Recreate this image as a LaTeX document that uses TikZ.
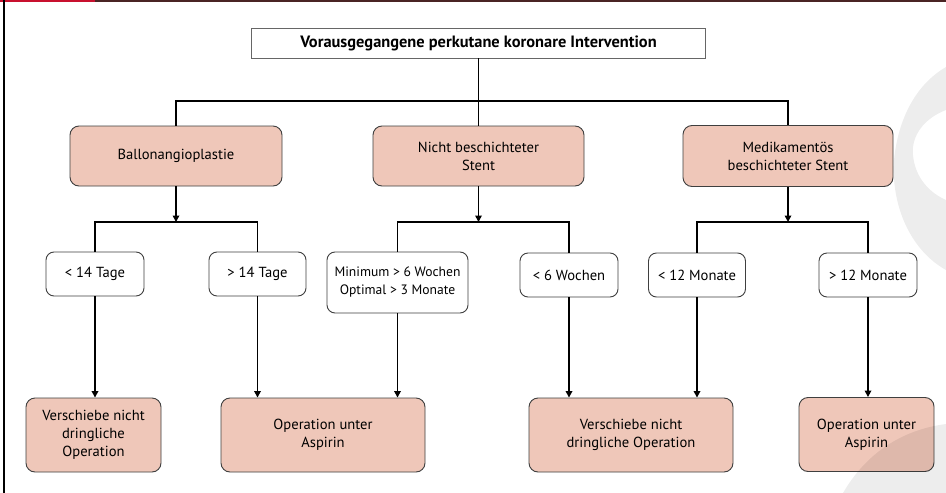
\documentclass[tikz,border=0pt]{standalone}
\usepackage{fontspec}
\setmainfont{PT Sans}
\usetikzlibrary{arrows.meta}
\definecolor{pinkfill}{HTML}{EFC7B9}
\definecolor{boxline}{HTML}{3F3F3F}
\definecolor{framered}{HTML}{C8102E}
\definecolor{framebrown}{HTML}{4A2424}
\tikzset{
  titlebox/.style={draw=gray!80!black, line width=0.8pt, fill=white, minimum width=454pt, minimum height=30pt, inner sep=0pt, font=\bfseries\fontsize{16.4}{18}\selectfont},
  pinkbox/.style={draw=boxline, line width=0.9pt, fill=pinkfill, rounded corners=9pt, align=center, inner sep=0pt, font=\fontsize{14.6}{18}\selectfont},
  condbox/.style={draw=boxline, line width=0.9pt, fill=white, rounded corners=8pt, align=center, inner sep=0pt, font=\fontsize{14.6}{18}\selectfont},
  conn/.style={line width=1.6pt, black},
  arr/.style={conn, -{Triangle[width=6.5pt,length=6.5pt]}},
}
\begin{document}
\begin{tikzpicture}[x=1pt,y=-1pt]
\useasboundingbox (0,0) rectangle (946,493);
\fill[white] (0,0) rectangle (946,493);
% frame
\draw[framebrown, line width=2pt] (0,1) -- (946,1);
\draw[framered, line width=2.2pt] (0,1) -- (95,1);
\draw[black, line width=1.2pt] (4,0) -- (4,493);
% title
\node[titlebox] (title) at (478.5,43) {Vorausgegangene perkutane koronare Intervention};
% level 1
\node[pinkbox, minimum width=212pt, minimum height=60pt] (b1) at (176,156) {Ballonangioplastie};
\node[pinkbox, minimum width=211pt, minimum height=60pt] (b2) at (478.5,156) {Nicht beschichteter\\Stent};
\node[pinkbox, minimum width=210pt, minimum height=61pt] (b3) at (788,156) {Medikamentös\\beschichteter Stent};
% level 2
\node[condbox, minimum width=98pt, minimum height=44pt] (c1) at (95,274) {< 14 Tage};
\node[condbox, minimum width=97pt, minimum height=44pt] (c2) at (257.5,274) {> 14 Tage};
\node[condbox, minimum width=141pt, minimum height=61pt, font=\fontsize{13.6}{18}\selectfont] (c3) at (397.5,282.5) {Minimum > 6 Wochen\\Optimal > 3 Monate};
\node[condbox, minimum width=98pt, minimum height=44pt] (c4) at (569,275) {< 6 Wochen};
\node[condbox, minimum width=97pt, minimum height=44pt] (c5) at (697,275) {< 12 Monate};
\node[condbox, minimum width=98pt, minimum height=44pt] (c6) at (868,275) {> 12 Monate};
% level 3
\node[pinkbox, minimum width=135pt, minimum height=74pt] (d1) at (93.5,435) {Verschiebe nicht\\dringliche\\Operation};
\node[pinkbox, minimum width=204pt, minimum height=74pt] (d2) at (323,435) {Operation unter\\Aspirin};
\node[pinkbox, minimum width=204pt, minimum height=74pt] (d3) at (631,435) {Verschiebe nicht\\dringliche Operation};
\node[pinkbox, minimum width=135pt, minimum height=74pt] (d4) at (866.5,434.5) {Operation unter\\Aspirin};
% junctions
\coordinate (h0) at (478.5,101);
\coordinate (j1) at (176,222);
\coordinate (j2) at (478.5,222);
\coordinate (j3) at (788,222);
% title -> level 1
\draw[conn] (title.south) -- (b2.north);
\draw[conn] (b1.north) |- (h0) -| (b3.north);
% level 1 -> level 2
\draw[arr] (b1.south) -- (j1);
\draw[arr] (b2.south) -- (j2);
\draw[arr] (b3.south) -- (j3);
\draw[conn] (c1.north) |- (j1) -| (c2.north);
\draw[conn] (c3.north) |- (j2) -| (c4.north);
\draw[conn] (c5.north) |- (j3) -| (c6.north);
% level 2 -> level 3
\draw[arr] (c1.south) -- (c1.south |- d1.north);
\draw[arr] (c2.south) -- (c2.south |- d2.north);
\draw[arr] (c3.south) -- (c3.south |- d2.north);
\draw[arr] (c4.south) -- (c4.south |- d3.north);
\draw[arr] (c5.south) -- (c5.south |- d3.north);
\draw[arr] (c6.south) -- (c6.south |- d4.north);
% watermark
\fill[black, fill opacity=0.07, even odd rule]
  (946,67) .. controls (915,85) and (898,120) .. (894,160)
  .. controls (891,205) and (910,250) .. (946,270) -- cycle
  (946,110) .. controls (925,118) and (911,135) .. (913,155)
  .. controls (915,178) and (930,193) .. (946,200) -- cycle;
\fill[black, fill opacity=0.07]
  (843,493) .. controls (865,455) and (900,430) .. (946,424) -- (946,493) -- cycle;
\end{tikzpicture}
\end{document}
